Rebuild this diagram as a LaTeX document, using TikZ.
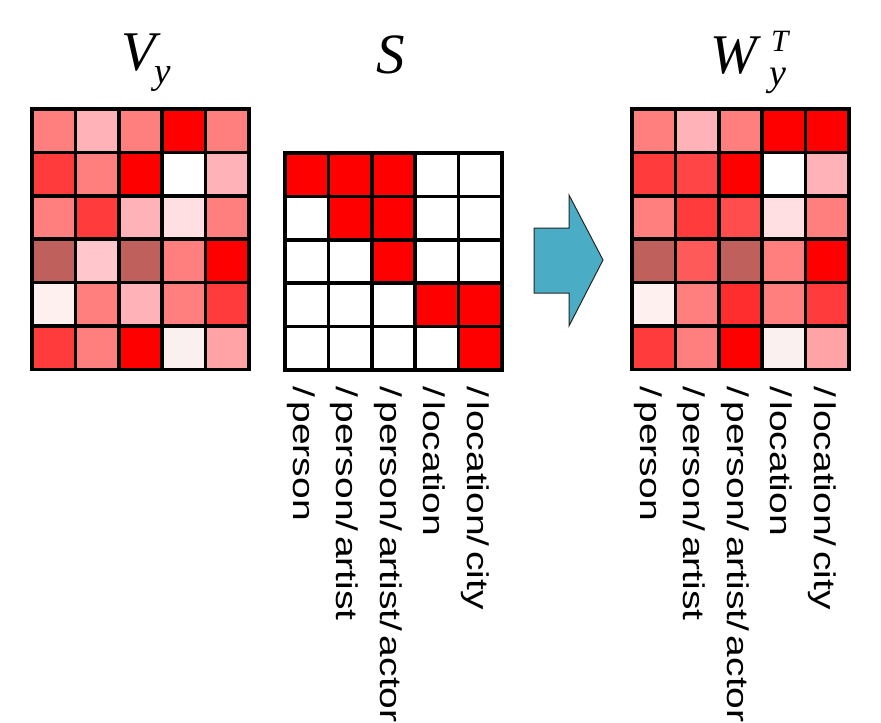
\documentclass[tikz,border=0pt]{standalone}
\usepackage{fontspec}
\setmainfont{Liberation Serif}
\newfontfamily\labfont[FakeStretch=1.3]{Liberation Sans}
\definecolor{cA}{HTML}{FF7F7F}
\definecolor{cB}{HTML}{FFB3B8}
\definecolor{cR}{HTML}{FF0000}
\definecolor{cD}{HTML}{FF3B3B}
\definecolor{cW}{HTML}{FFFFFF}
\definecolor{cL}{HTML}{FFDFE1}
\definecolor{cM}{HTML}{C0605D}
\definecolor{cP}{HTML}{FFC7CC}
\definecolor{cF}{HTML}{FFF0F0}
\definecolor{cG}{HTML}{FAF0F0}
\definecolor{cH}{HTML}{FFA3A6}
\definecolor{cE}{HTML}{FF4545}
\definecolor{cN}{HTML}{FF4D4D}
\definecolor{cK}{HTML}{FF5A5A}
\definecolor{cQ}{HTML}{FF2D2D}
\definecolor{arrowblue}{HTML}{4BACC6}
\newcommand\sk{/\kern0.15em}
\newcommand\fillmat[3]{%
  \foreach \row [count=\r from 0] in {#3} {%
    \foreach \c [count=\k from 0] in \row {%
      \fill[\c] (#1+\k*43.4,#2+\r*43.4) rectangle ++(43.4,43.4);
    }%
  }%
}
\newcommand\gridmat[4]{%
  \foreach \k in {0,...,#3} \draw[gridline] (#1+\k*43.4,#2) -- (#1+\k*43.4,#2+#4*43.4);
  \foreach \r in {0,...,#4} \draw[gridline] (#1,#2+\r*43.4) -- (#1+#3*43.4,#2+\r*43.4);
}
\begin{document}
\begin{tikzpicture}[x=1pt,y=-1pt,
  gridline/.style={line width=3.5pt, black, line cap=rect},
  lab/.style={font=\labfont\fontsize{30}{32}\selectfont, rotate=-90, anchor=base west, inner sep=0pt},
  ttl/.style={inner sep=0pt, anchor=base west}]
\useasboundingbox (0,0) rectangle (881,723);

% V_y
\fillmat{32}{109}{{cA,cB,cA,cR,cA},{cD,cA,cR,cW,cB},{cA,cD,cB,cL,cA},{cM,cP,cM,cA,cR},{cF,cA,cB,cA,cD},{cD,cA,cR,cG,cH}}
\gridmat{32}{109}{5}{6}

% S
\fillmat{285}{153}{{cR,cR,cR,cW,cW},{cW,cR,cR,cW,cW},{cW,cW,cR,cW,cW},{cW,cW,cW,cR,cR},{cW,cW,cW,cW,cR}}
\gridmat{285}{153}{5}{5}

% W
\fillmat{632}{109}{{cA,cB,cA,cR,cR},{cD,cE,cR,cW,cB},{cA,cD,cN,cL,cA},{cM,cK,cM,cA,cR},{cF,cA,cQ,cA,cD},{cD,cA,cR,cG,cH}}
\gridmat{632}{109}{5}{6}

% arrow
\draw[fill=arrowblue, draw=black!85, line width=1pt, line join=miter]
  (534,228) -- (569,228) -- (569,195) -- (603,260) -- (569,326) -- (569,293) -- (534,293) -- cycle;

% titles
\node[ttl, font=\itshape\fontsize{56}{60}\selectfont] (tV) at (121,70) {V};
\node[ttl, font=\itshape\fontsize{37}{40}\selectfont] (tVy) at (154,83) {y};
\node[ttl, font=\itshape\fontsize{57}{60}\selectfont] (tS) at (376,73) {S};
\node[ttl, font=\itshape\fontsize{56}{60}\selectfont] (tW) at (710,73) {W};
\node[ttl, font=\itshape\fontsize{31}{34}\selectfont] (tT) at (771,51) {T};
\node[ttl, font=\itshape\fontsize{38}{40}\selectfont] (tWy) at (769,85) {y};

% labels under S
\node[lab] (s1) at (285+8.5,386) {\sk person};
\node[lab] (s2) at (328.4+8.5,386) {\sk person\sk artist};
\node[lab] (s3) at (371.8+8.5,386) {\sk person\sk artist\sk actor};
\node[lab] (s4) at (415.2+8.5,386) {\sk location};
\node[lab] (s5) at (458.6+8.5,386) {\sk location\sk city};

% labels under W
\node[lab] (w1) at (632+8.5,386) {\sk person};
\node[lab] (w2) at (675.4+8.5,386) {\sk person\sk artist};
\node[lab] (w3) at (718.8+8.5,386) {\sk person\sk artist\sk actor};
\node[lab] (w4) at (762.2+8.5,386) {\sk location};
\node[lab] (w5) at (805.6+8.5,386) {\sk location\sk city};
\end{tikzpicture}
\end{document}
